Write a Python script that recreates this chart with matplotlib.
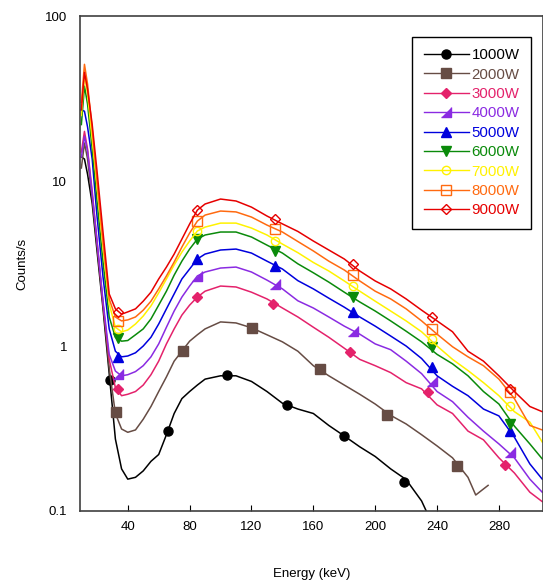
import numpy as np
import matplotlib.pyplot as plt
from matplotlib.lines import Line2D

plt.rcParams['font.family'] = ['Liberation Sans', 'DejaVu Sans']

# energy grid (keV) shared by the 3000W..9000W spectra
energy = [10, 12, 14, 17, 20, 24, 28, 32, 36, 40, 45, 50, 55, 60, 65, 70, 75, 80, 85, 90,
          100, 110, 120, 130, 140, 150, 160, 170, 180, 190, 200, 210, 220, 230, 240, 250,
          260, 270, 280, 290, 300, 308]

c9000 = [27, 45.6, 36, 22, 11.8, 4.9, 2.07, 1.68, 1.56, 1.61, 1.68, 1.87, 2.12, 2.55, 3.01, 3.61,
         4.45, 5.49, 6.67, 7.26, 7.78, 7.57, 6.95, 6.14, 5.5, 4.95, 4.33, 3.82, 3.37, 2.85, 2.48,
         2.22, 1.93, 1.65, 1.42, 1.22, 0.93, 0.81, 0.66, 0.53, 0.43, 0.40]
c8000 = [30, 51, 38.7, 20.6, 10.3, 4.27, 1.93, 1.50, 1.42, 1.44, 1.50, 1.65, 1.87, 2.22, 2.66, 3.23,
         3.98, 4.84, 5.72, 6.22, 6.58, 6.5, 6.05, 5.41, 4.91, 4.3, 3.77, 3.27, 2.89, 2.48, 2.15,
         1.93, 1.68, 1.42, 1.18, 0.99, 0.86, 0.76, 0.63, 0.48, 0.33, 0.31]
c7000 = [25, 44, 33.7, 18, 9.6, 3.98, 1.80, 1.30, 1.22, 1.25, 1.36, 1.52, 1.75, 2.1, 2.55, 3.1,
         3.71, 4.33, 4.98, 5.26, 5.56, 5.56, 5.19, 4.71, 4.15, 3.68, 3.21, 2.85, 2.48, 2.15, 1.87,
         1.63, 1.42, 1.22, 1.0, 0.83, 0.71, 0.6, 0.5, 0.40, 0.346, 0.262]
c6000 = [22, 37.6, 29.3, 15.6, 7.78, 3.23, 1.50, 1.13, 1.07, 1.08, 1.17, 1.27, 1.46, 1.77, 2.15, 2.69,
         3.27, 3.87, 4.45, 4.71, 4.91, 4.91, 4.58, 4.09, 3.66, 3.15, 2.78, 2.44, 2.12, 1.85, 1.63,
         1.42, 1.23, 1.06, 0.89, 0.78, 0.66, 0.53, 0.445, 0.327, 0.255, 0.207]
c5000 = [27, 26.5, 21.3, 13.6, 6.3, 2.62, 1.27, 0.93, 0.86, 0.87, 0.91, 1.0, 1.13, 1.36, 1.68, 2.07,
         2.55, 2.93, 3.37, 3.61, 3.82, 3.87, 3.66, 3.27, 2.93, 2.49, 2.22, 1.95, 1.72, 1.50, 1.32,
         1.15, 1.0, 0.84, 0.66, 0.57, 0.5, 0.415, 0.377, 0.28, 0.193, 0.156]
c4000 = [14, 18.7, 15.2, 8.33, 4.45, 1.87, 0.89, 0.705, 0.66, 0.67, 0.70, 0.76, 0.86, 1.03, 1.30, 1.63,
         1.98, 2.31, 2.66, 2.81, 2.97, 3.01, 2.81, 2.51, 2.22, 1.88, 1.70, 1.50, 1.32, 1.18, 1.03,
         0.95, 0.81, 0.68, 0.53, 0.46, 0.37, 0.305, 0.255, 0.21, 0.156, 0.13]
c3000 = [15, 20, 15.6, 8.7, 4.45, 1.80, 0.83, 0.56, 0.50, 0.51, 0.53, 0.58, 0.67, 0.81, 1.03, 1.27,
         1.54, 1.77, 1.98, 2.15, 2.31, 2.28, 2.12, 1.93, 1.70, 1.50, 1.30, 1.13, 0.97, 0.83, 0.76,
         0.69, 0.60, 0.55, 0.44, 0.39, 0.305, 0.27, 0.21, 0.17, 0.13, 0.114]

energy_2000 = [10, 12, 14, 17, 20, 24, 28, 32, 36, 40, 45, 50, 55, 60, 65, 70, 75, 80, 85, 90,
               100, 110, 120, 130, 140, 150, 160, 170, 180, 190, 200, 210, 220, 230, 240, 250,
               260, 265, 270, 273]
c2000 = [12, 17, 13.6, 7.8, 4.15, 1.80, 0.73, 0.39, 0.314, 0.30, 0.31, 0.36, 0.43, 0.53, 0.65, 0.81,
         0.93, 1.07, 1.17, 1.27, 1.40, 1.38, 1.29, 1.17, 1.06, 0.93, 0.76, 0.66, 0.58, 0.51, 0.445,
         0.38, 0.337, 0.29, 0.248, 0.21, 0.16, 0.125, 0.136, 0.143]

energy_1000 = [10, 12, 14, 17, 20, 24, 28, 32, 36, 40, 45, 50, 55, 60, 65, 70, 75, 80, 85, 90,
               100, 110, 120, 130, 140, 150, 160, 170, 180, 190, 200, 210, 220, 230, 233]
c1000 = [14, 13.6, 11, 7.3, 3.87, 1.68, 0.68, 0.273, 0.18, 0.156, 0.16, 0.175, 0.2, 0.22, 0.29, 0.39,
         0.48, 0.53, 0.58, 0.63, 0.66, 0.66, 0.61, 0.53, 0.45, 0.415, 0.39, 0.33, 0.285, 0.245, 0.214,
         0.18, 0.155, 0.115, 0.1]

# marker positions
mk_hi = [33.5, 84.7, 135, 185.6, 236.8, 287]
mk_3000 = [33.5, 84.7, 133.9, 183.7, 234.2, 284]
mk_2000 = [32.2, 75.6, 120.3, 164.3, 207.6, 253]
mk_1000 = [28.3, 65.9, 104.2, 142.9, 179.7, 218.5]
m9000 = [1.61, 6.67, 5.88, 3.14, 1.50, 0.55]
m8000 = [1.42, 5.72, 5.12, 2.69, 1.27, 0.53]
m7000 = [1.27, 4.98, 4.33, 2.31, 1.10, 0.43]
m6000 = [1.12, 4.45, 3.77, 1.98, 0.99, 0.337]
m5000 = [0.86, 3.37, 3.05, 1.61, 0.746, 0.305]
m4000 = [0.68, 2.66, 2.38, 1.23, 0.61, 0.228]
m3000 = [0.55, 1.98, 1.80, 0.92, 0.53, 0.19]
m2000 = [0.40, 0.93, 1.29, 0.73, 0.38, 0.187]
m1000 = [0.62, 0.305, 0.667, 0.44, 0.285, 0.15]

labels = ['1000W', '2000W', '3000W', '4000W', '5000W', '6000W', '7000W', '8000W', '9000W']

tri = [(-1, -1), (1, -1), (1, 1)]
series = [
    (energy_1000, c1000, mk_1000, m1000, '#000000', 'o', True, 6.5),
    (energy_2000, c2000, mk_2000, m2000, '#664C44', 's', True, 7.5),
    (energy, c3000, mk_3000, m3000, '#E4226B', 'D', True, 5.5),
    (energy, c4000, mk_hi, m4000, '#8A2BE2', tri, True, 6.5),
    (energy, c5000, mk_hi, m5000, '#0000DD', '^', True, 7),
    (energy, c6000, mk_hi, m6000, '#0A8A0A', 'v', True, 7),
    (energy, c7000, mk_hi, m7000, '#FFF200', 'o', False, 6),
    (energy, c8000, mk_hi, m8000, '#FF6A10', 's', False, 6.5),
    (energy, c9000, mk_hi, m9000, '#E60000', 'D', False, 5),
]

fig = plt.figure(figsize=(5.43, 5.85), dpi=100)
ax = fig.add_axes([0.147, 0.1265, 0.853, 0.846])

handles = []
for (x, y, mx, my, col, mk, filled, ms), lab in zip(series, labels):
    ax.plot(x, y, color=col, lw=1.1)
    mfc = col if filled else 'none'
    ax.plot(mx, my, ls='none', marker=mk, ms=ms, color=col, mfc=mfc, mec=col, mew=1.0)
    handles.append(Line2D([], [], color=col, lw=1.0, marker=mk, ms=ms, mfc=mfc, mec=col, label=lab))

ax.set_yscale('log')
ax.set_xlim(9, 308.5)
ax.set_ylim(0.1, 100)
ax.set_xticks([40, 80, 120, 160, 200, 240, 280])
ax.set_yticks([0.1, 1, 10, 100])
ax.set_yticklabels(['0.1', '1', '10', '100'])
ax.minorticks_off()
ax.tick_params(axis='x', direction='in', length=4, pad=7, labelsize=9.5)
ax.tick_params(axis='y', length=0, pad=9, labelsize=9.5)
for s in ax.spines.values():
    s.set_color('#404040')
    s.set_linewidth(1.2)

ax.set_xlabel('Energy (keV)', fontsize=9.5)
ax.set_ylabel('Counts/s', fontsize=9.5)
ax.xaxis.set_label_coords(0.5, -0.115)
ax.yaxis.set_label_coords(-0.11, 0.5)

leg = ax.legend(handles=handles, loc='upper left', bbox_to_anchor=(0.702, 0.973),
                fontsize=10.8, handlelength=3.0, handletextpad=0.2, labelspacing=0.36,
                frameon=True, fancybox=False, framealpha=1, borderpad=0.75)
leg.get_frame().set_edgecolor('black')
leg.get_frame().set_linewidth(1.0)
for t, h in zip(leg.get_texts(), handles):
    t.set_color(h.get_color())

fig.savefig('out.png', dpi=100)
